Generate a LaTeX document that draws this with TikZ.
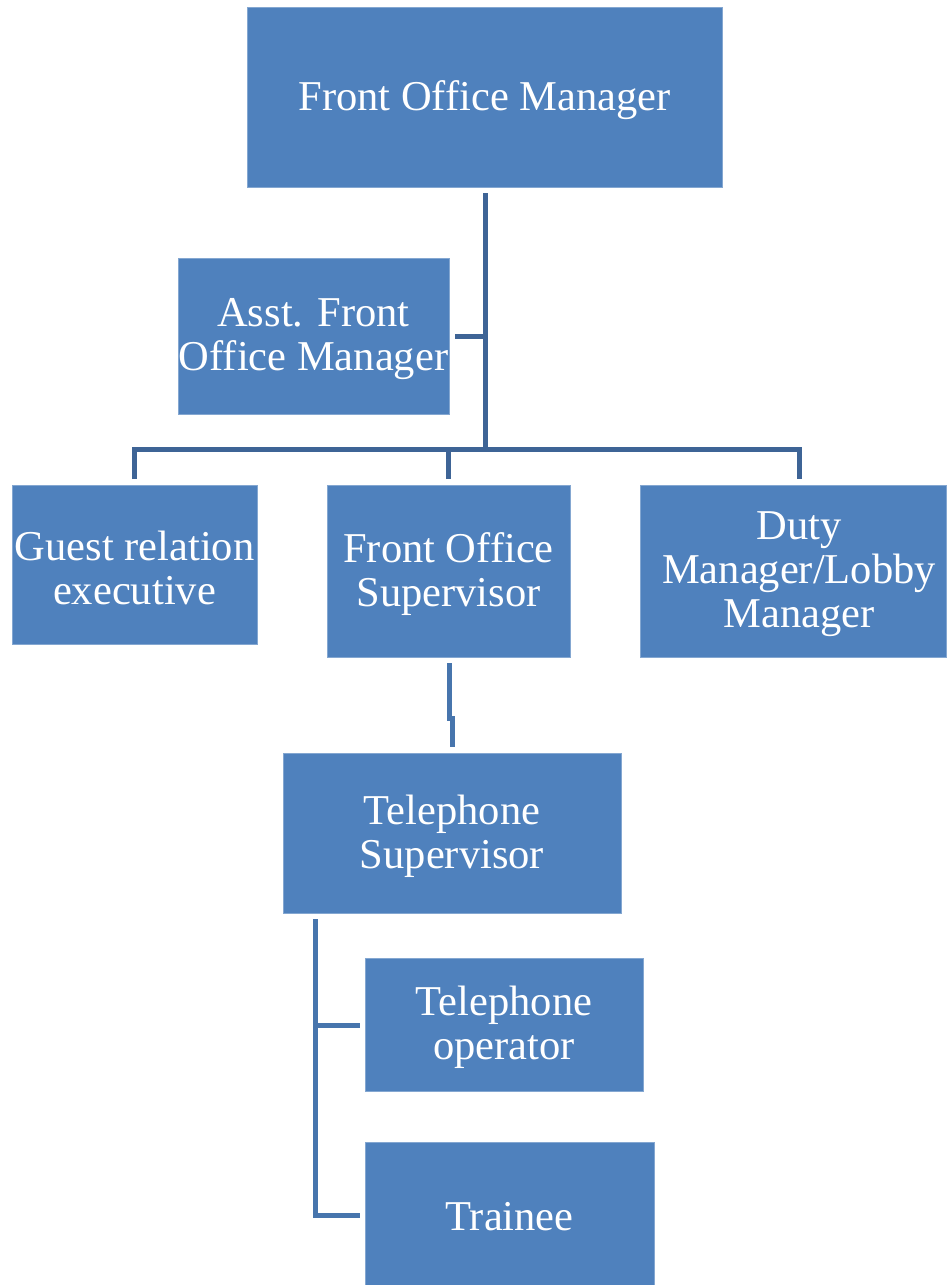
\documentclass[tikz,border=0pt]{standalone}
\usepackage{fontspec}
\setmainfont{Liberation Serif}
\begin{document}
\begin{tikzpicture}[x=1pt,y=-1pt,
  box/.style={fill=boxblue, draw=boxblue!70!white, line width=0.8pt, inner sep=0pt, anchor=center},
  lbl/.style={text=white, align=center, inner sep=0pt, yshift=-3pt, font=\fontsize{42.5}{44}\selectfont},
  conn/.style={draw=lineblue, line width=5pt},
  conn2/.style={draw=lineblue2, line width=5pt}]
\definecolor{boxblue}{HTML}{4F81BD}
\definecolor{lineblue}{HTML}{3E6496}
\definecolor{lineblue2}{HTML}{4775AD}
\useasboundingbox (0,0) rectangle (946,1285);
% boxes
\node[box, minimum width=475, minimum height=180] (fom) at (484.5,97) {};
\node[box, minimum width=271, minimum height=156] (afom) at (313.5,336) {};
\node[box, minimum width=245, minimum height=159] (gre) at (134.5,564.5) {};
\node[box, minimum width=243, minimum height=172] (fos) at (448.5,571) {};
\node[box, minimum width=306, minimum height=172] (dm) at (793,571) {};
\node[box, minimum width=338, minimum height=160] (ts) at (452,833) {};
\node[box, minimum width=278, minimum height=133] (to) at (504,1024.5) {};
\node[box, minimum width=289, minimum height=143] (tr) at (509.5,1213.5) {};
% labels
\node[lbl] (fomt) at (fom.center) {Front Office Manager};
\node[lbl] (afomt) at (afom.center) {Asst. Front\\Office Manager};
\node[lbl] (gret) at (gre.center) {Guest relation\\executive};
\node[lbl] (fost) at (fos.center) {Front Office\\Supervisor};
\node[lbl, xshift=6pt] (dmt) at (dm.center) {Duty\\Manager/Lobby\\Manager};
\node[lbl] (tst) at (ts.center) {Telephone\\Supervisor};
\node[lbl] (tot) at (to.center) {Telephone\\operator};
\node[lbl] (trt) at (tr.center) {Trainee};
% connector points
\coordinate (top) at (485,193);
\coordinate (bus) at (485,449);
\coordinate (asst) at (455,336);
\coordinate (gtop) at (134,479);
\coordinate (ftop) at (448,479);
\coordinate (dtop) at (799,479);
\coordinate (fbot) at (449,663);
\coordinate (tstop) at (452,747);
\coordinate (tsbot) at (315,919);
\coordinate (toend) at (360,1025);
\coordinate (trend) at (360,1215);
% connectors
\draw[conn] (top) -- (bus);
\draw[conn] (asst) -- (asst -| top);
\draw[conn, line join=miter] (gtop) |- (bus) -| (dtop);
\draw[conn] (ftop) -- (ftop |- bus);
\draw[conn2] (fbot) -- (449,718) -- (452,718) -- (tstop);
\draw[conn2] (tsbot) |- (trend);
\draw[conn2] (tsbot |- toend) -- (toend);
\end{tikzpicture}
\end{document}
